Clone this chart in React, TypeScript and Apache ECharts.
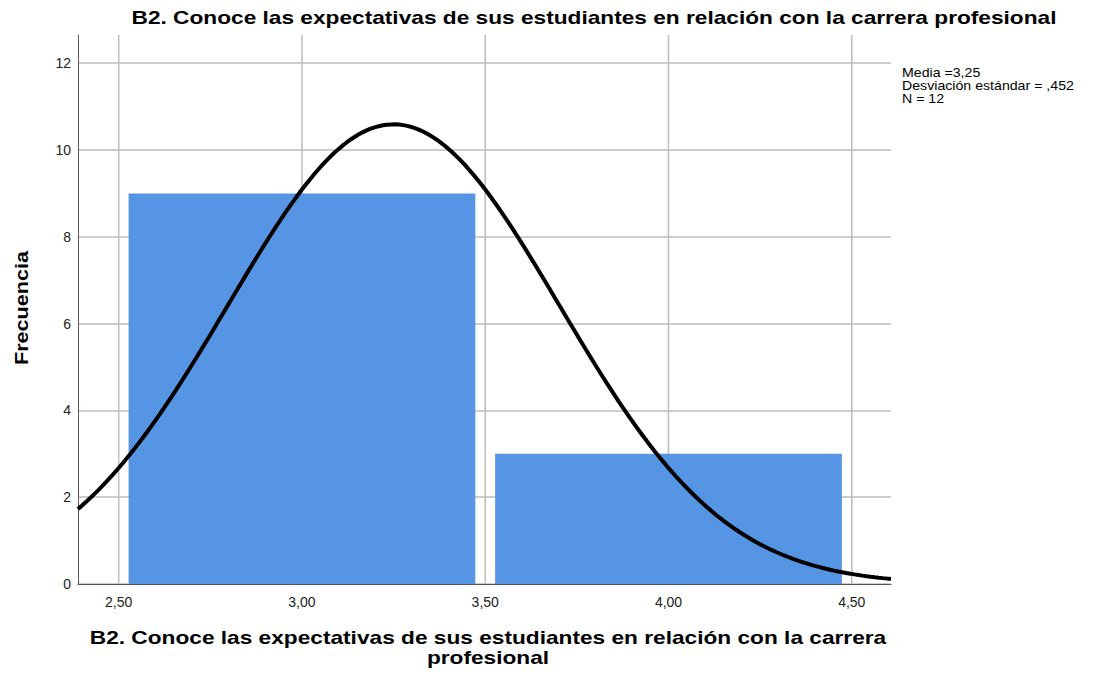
import React, { useEffect, useRef } from "react";
import * as echarts from "echarts";

const titleText = "B2. Conoce las expectativas de sus estudiantes en relación con la carrera profesional";
const xAxisNameLine1 = "B2. Conoce las expectativas de sus estudiantes en relación con la carrera";
const xAxisNameLine2 = "profesional";
const yAxisName = "Frecuencia";
const xTicks = [2.5, 3.0, 3.5, 4.0, 4.5];
const binStarts = [2.5, 3.5];
const binEnds = [3.5, 4.5];
const counts = [9, 3];
const mean = 3.25;
const stdDev = 0.452;
const nTotal = 12;
const statsLines = ["Media =3,25", "Desviación estándar = ,452", "N = 12"];
const xMin = 2.389;
const xMax = 4.607;
const yMax = 12.65;

export default function App() {
  const ref = useRef<HTMLDivElement>(null);
  useEffect(() => {
    document.body.style.margin = "0";
    if (!ref.current) return;
    const chart = echarts.init(ref.current, null, { renderer: "svg" });
    const binWidth = binEnds[0] - binStarts[0];
    const curve: number[][] = [];
    const steps = 200;
    for (let i = 0; i <= steps; i++) {
      const x = xMin + ((xMax - xMin) * i) / steps;
      const z = (x - mean) / stdDev;
      const y = (nTotal * binWidth * Math.exp(-0.5 * z * z)) / (stdDev * Math.sqrt(2 * Math.PI));
      curve.push([x, y]);
    }
    const barData = counts.map((c, i) => [binStarts[i], binEnds[i], c]);
    const font = "'Liberation Sans', Arial, sans-serif";
    const boldText = { fontFamily: font, fontSize: 18, fontWeight: "bold", fill: "#000" };
    chart.setOption({
      animation: false,
      backgroundColor: "#ffffff",
      graphic: [
        {
          type: "text",
          x: 594,
          y: 17,
          scaleX: 1.26,
          style: { ...boldText, text: titleText, align: "center", verticalAlign: "middle" },
        },
        {
          type: "text",
          x: 488,
          y: 637,
          scaleX: 1.26,
          style: { ...boldText, text: xAxisNameLine1, align: "center", verticalAlign: "middle" },
        },
        {
          type: "text",
          x: 488,
          y: 657,
          scaleX: 1.26,
          style: { ...boldText, text: xAxisNameLine2, align: "center", verticalAlign: "middle" },
        },
        {
          type: "text",
          x: 22,
          y: 308,
          rotation: Math.PI / 2,
          scaleX: 1.2,
          style: { ...boldText, text: yAxisName, align: "center", verticalAlign: "middle" },
        },
        ...statsLines.map((t, i) => ({
          type: "text",
          x: 902,
          y: 73 + i * 13,
          scaleX: 1.09,
          style: {
            text: t,
            fontFamily: font,
            fontSize: 13,
            lineHeight: 13,
            fill: "#000",
            verticalAlign: "middle",
          },
        })),
      ],
      grid: { left: 78, right: 205, top: 35, bottom: 98 },
      xAxis: {
        type: "value",
        min: xMin,
        max: xMax,
        axisLine: { show: true, onZero: false, lineStyle: { color: "#555", width: 1 } },
        axisTick: { show: false },
        axisLabel: {
          fontFamily: font,
          fontSize: 14,
          color: "#222",
          margin: 11,
          customValues: xTicks,
          formatter: (v: number) => v.toFixed(2).replace(".", ","),
        },
        splitLine: { show: false },
      },
      yAxis: {
        type: "value",
        min: 0,
        max: yMax,
        interval: 2,
        axisLine: { show: true, lineStyle: { color: "#555", width: 1 } },
        axisTick: { show: false },
        axisLabel: {
          fontFamily: font,
          fontSize: 14,
          color: "#222",
          margin: 7,
          showMaxLabel: false,
        },
        splitLine: { show: true, showMaxLine: false, lineStyle: { color: "#bdbdbd", width: 1.5 } },
      },
      series: [
        {
          type: "custom",
          data: xTicks.map((v) => [v]),
          encode: { x: 0 },
          silent: true,
          z: 1,
          renderItem: (params: any, api: any) => {
            const p = api.coord([api.value(0), 0]);
            const top = params.coordSys.y;
            return {
              type: "line",
              shape: { x1: p[0], y1: top, x2: p[0], y2: p[1] },
              style: { stroke: "#bdbdbd", lineWidth: 1.5 },
            };
          },
        },
        {
          type: "custom",
          data: barData,
          encode: { x: [0, 1], y: 2 },
          renderItem: (params: any, api: any) => {
            const inset = 0.027;
            const p0 = api.coord([api.value(0) + inset, api.value(2)]);
            const p1 = api.coord([api.value(1) - inset, 0]);
            return {
              type: "rect",
              shape: { x: p0[0], y: p0[1], width: p1[0] - p0[0], height: p1[1] - p0[1] },
              style: { fill: "#5694E4" },
            };
          },
          z: 2,
        },
        {
          type: "line",
          data: curve,
          showSymbol: false,
          symbol: "none",
          lineStyle: { color: "#000", width: 4 },
          z: 3,
        },
      ],
    });
    return () => chart.dispose();
  }, []);
  return <div ref={ref} style={{ width: 1096, height: 682 }} />;
}
